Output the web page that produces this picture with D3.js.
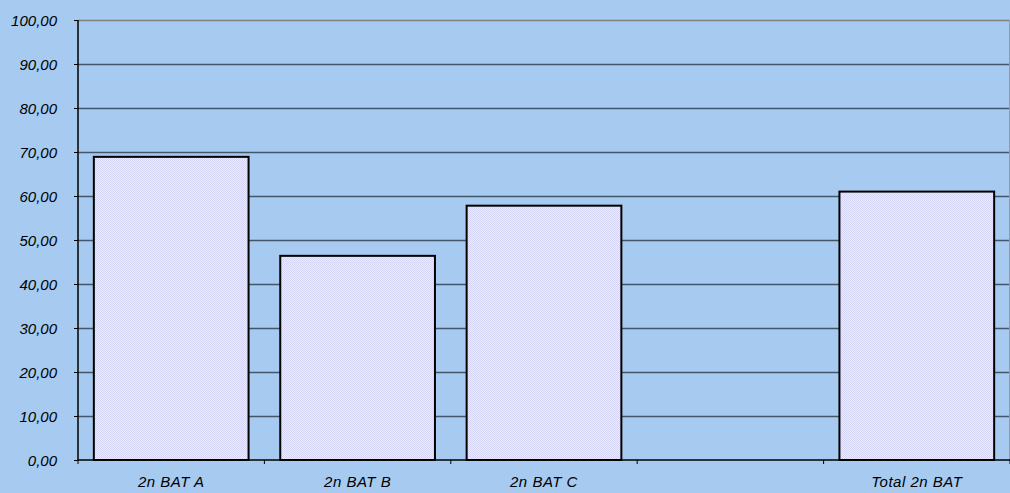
<!DOCTYPE html>
<html><head><meta charset="utf-8">
<script src="https://cdn.jsdelivr.net/npm/d3@7"></script>
<style>
html,body{margin:0;padding:0;background:#A6CAF0;}
svg{display:block;}
svg text{font-family:"Liberation Sans",Arial,sans-serif !important;font-style:italic;font-size:15px !important;fill:#000;}
</style></head>
<body><svg id="c" width="1010" height="493"></svg>
<script>
const categories = ["2n BAT A","2n BAT B","2n BAT C","","Total 2n BAT"];
const values = [68.9, 46.4, 57.8, null, 61.0];
const yTicks = [0,10,20,30,40,50,60,70,80,90,100];

const svg = d3.select("#c");
const W = 1010, H = 493;
const m = {left:78, right:0, top:20, bottom:33};
svg.append("rect").attr("width",W).attr("height",H).attr("fill","#A6CAF0");

const x = d3.scaleBand().domain(d3.range(categories.length))
  .range([m.left, W - m.right]).paddingInner(0.17).paddingOuter(0.085);
const y = d3.scaleLinear().domain([0,100]).range([H - m.bottom, m.top]);

const defs = svg.append("defs");
const pat = defs.append("pattern").attr("id","dots").attr("width",2).attr("height",2)
  .attr("patternUnits","userSpaceOnUse");
pat.append("rect").attr("width",2).attr("height",2).attr("fill","#ECECFF");
pat.append("rect").attr("width",1).attr("height",1).attr("fill","#D4D4F4");
pat.append("rect").attr("x",1).attr("y",1).attr("width",1).attr("height",1).attr("fill","#D4D4F4");

// gridlines
svg.append("g").selectAll("line").data(yTicks.filter(d=>d>0)).join("line")
  .attr("x1", m.left).attr("x2", W - 1)
  .attr("y1", d=>Math.round(y(d))+0.5).attr("y2", d=>Math.round(y(d))+0.5)
  .attr("stroke", d=> d===100 ? "#808080" : "#44566c").attr("stroke-width", 1.3);

// right border
svg.append("line").attr("x1",W-0.5).attr("x2",W-0.5).attr("y1",y(100)).attr("y2",y(0))
  .attr("stroke","#8a9cb0").attr("stroke-width",1);

// bars
svg.append("g").selectAll("rect").data(values.map((v,i)=>({v,i})).filter(d=>d.v!=null)).join("rect")
  .attr("x", d=>x(d.i)).attr("width", x.bandwidth())
  .attr("y", d=>y(d.v)).attr("height", d=>y(0)-y(d.v))
  .attr("fill","url(#dots)").attr("stroke","#000").attr("stroke-width",2);

// y axis
const yAxis = d3.axisLeft(y).tickValues(yTicks).tickSize(4).tickPadding(17)
  .tickFormat(d=>d3.format(".2f")(d).replace(".",","));
const gy = svg.append("g").attr("transform",`translate(${m.left},0)`).call(yAxis)
  .attr("font-size",null).attr("font-family",null);
gy.select(".domain").attr("stroke","#000").attr("stroke-width",1.5).attr("d",`M0,${y(100)}V${y(0)}`);
gy.selectAll(".tick line").attr("stroke","#000");
gy.selectAll("text").attr("fill","#000").attr("dy","0.35em");

// x axis
const xb = d3.scaleLinear().domain([0,categories.length]).range([m.left, W - m.right]);
svg.append("line").attr("x1",m.left).attr("x2",W).attr("y1",y(0)).attr("y2",y(0))
  .attr("stroke","#000").attr("stroke-width",1.5);
svg.append("g").selectAll("line").data(d3.range(categories.length+1)).join("line")
  .attr("x1",d=>xb(d)).attr("x2",d=>xb(d)).attr("y1",y(0)).attr("y2",y(0)+4)
  .attr("stroke","#000");
svg.append("g").selectAll("text").data(categories).join("text")
  .attr("x",(d,i)=>x(i)+x.bandwidth()/2).attr("y",y(0)+27)
  .attr("text-anchor","middle").style("letter-spacing","0.5px").text(d=>d);
</script></body></html>
